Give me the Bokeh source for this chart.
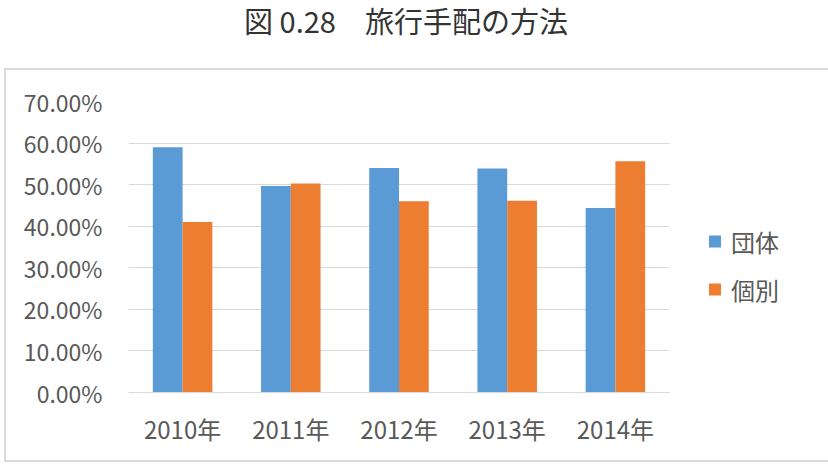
from bokeh.plotting import figure
from bokeh.models import (FactorRange, Range1d, ColumnDataSource, NumeralTickFormatter,
                          FixedTicker, Legend, LegendItem, Div)
from bokeh.layouts import column
from bokeh.transform import dodge
from bokeh.embed import file_html
from bokeh.resources import INLINE

years = ["2010年", "2011年", "2012年", "2013年", "2014年"]
group = [0.590, 0.497, 0.540, 0.539, 0.444]       # 団体
individual = [0.410, 0.503, 0.460, 0.461, 0.556]  # 個別
y_ticks = [0.0, 0.1, 0.2, 0.3, 0.4, 0.5, 0.6, 0.7]
series_names = ["団体", "個別"]
title_text = "図 0.28　旅行手配の方法"

FONT = "Noto Sans CJK JP"
TXT = "#595959"

src = ColumnDataSource(dict(years=years, group=group, individual=individual))

p = figure(x_range=FactorRange(*years), y_range=Range1d(0, 0.7),
           frame_width=537, frame_height=287, output_backend="svg", toolbar_location=None,
           min_border_left=122, min_border_right=149, min_border_top=31,
           min_border_bottom=72, margin=(0, 0, 0, 4),
           styles={"border": "2px solid #D9D9D9", "box-sizing": "content-box"})
p.outline_line_color = None
p.background_fill_color = "white"
p.border_fill_color = "white"

r1 = p.vbar(x=dodge("years", -0.1375, range=p.x_range), top="group", width=0.275,
            source=src, fill_color="#5B9BD5", line_color=None)
r2 = p.vbar(x=dodge("years", 0.1375, range=p.x_range), top="individual", width=0.275,
            source=src, fill_color="#ED7D31", line_color=None)

p.xgrid.grid_line_color = None
p.ygrid.grid_line_color = "#D9D9D9"
p.ygrid.grid_line_width = 1

p.yaxis.ticker = FixedTicker(ticks=y_ticks)
p.yaxis.formatter = NumeralTickFormatter(format="0.00%")
p.yaxis.axis_line_color = None
p.yaxis.major_tick_line_color = None
p.yaxis.minor_tick_line_color = None
p.yaxis.major_tick_out = 0
p.yaxis.major_label_standoff = 26
p.yaxis.major_label_text_font = FONT
p.yaxis.major_label_text_font_size = "23px"
p.yaxis.major_label_text_color = TXT

p.xaxis.axis_line_color = "#D9D9D9"
p.xaxis.major_tick_line_color = None
p.xaxis.minor_tick_line_color = None
p.xaxis.major_tick_out = 0
p.xaxis.major_label_standoff = 18
p.xaxis.major_label_text_font = FONT
p.xaxis.major_label_text_font_size = "24px"
p.xaxis.major_label_text_color = TXT

legend = Legend(items=[LegendItem(label=series_names[0], renderers=[r1]),
                       LegendItem(label=series_names[1], renderers=[r2])],
                location="left")
legend.title = " "
legend.title_text_font_size = "10px"
legend.title_standoff = 25
legend.border_line_color = None
legend.background_fill_alpha = 0
legend.padding = 0
legend.margin = 38
legend.glyph_width = 15
legend.glyph_height = 15
legend.label_height = 20
legend.spacing = 13
legend.label_standoff = 9
legend.label_text_font = FONT
legend.label_text_font_size = "24px"
legend.label_text_color = TXT
p.add_layout(legend, "right")

title = Div(text=title_text, width=812, height=68, margin=0,
            styles={"font-family": FONT, "font-size": "29px", "color": "#333333",
                    "text-align": "center", "line-height": "40px"})

layout = column(title, p, spacing=0)

open("out.html", "w").write(file_html(layout, INLINE))
